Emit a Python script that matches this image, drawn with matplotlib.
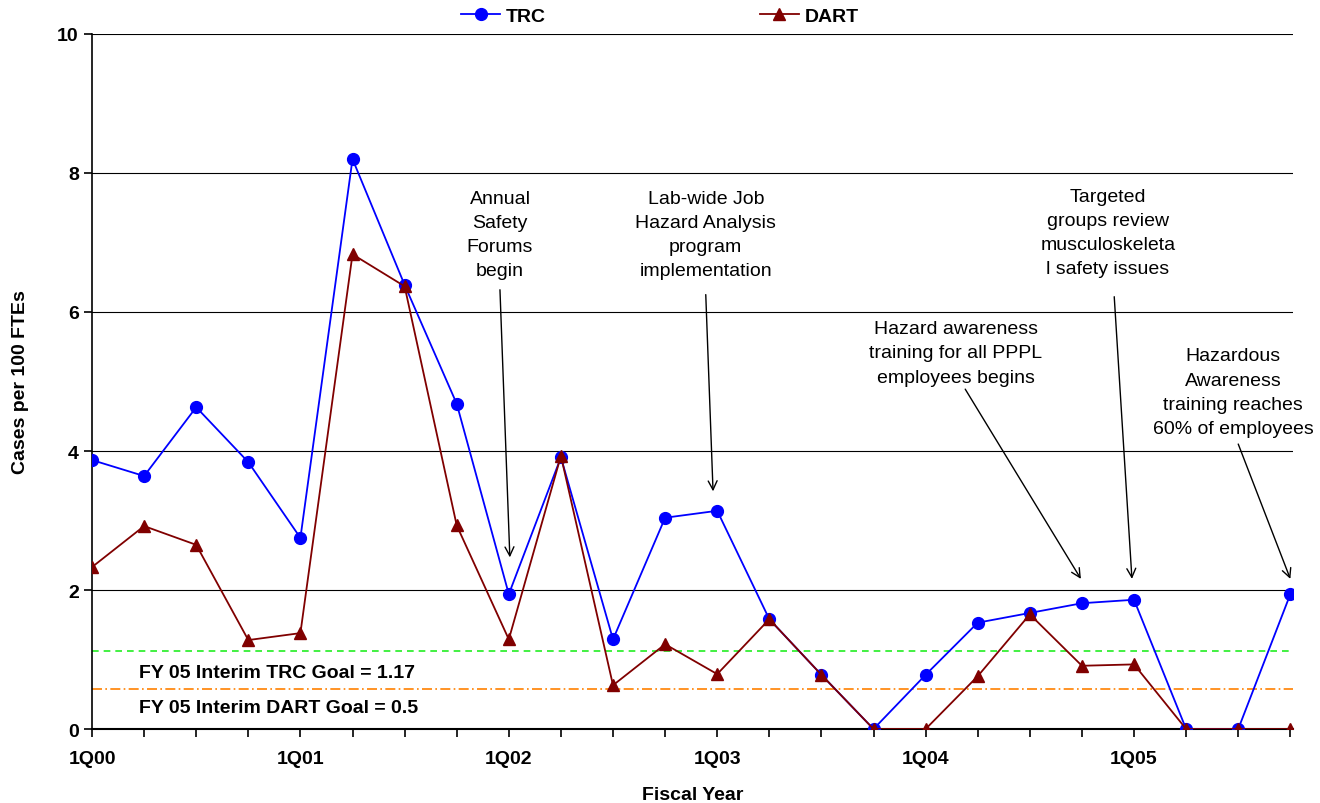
import matplotlib.pyplot as plt
import numpy as np

plt.rcParams["font.family"] = ["Liberation Sans", "DejaVu Sans"]

# quarterly data, 1Q00 .. 4Q05
quarters = ["1Q00", "2Q00", "3Q00", "4Q00", "1Q01", "2Q01", "3Q01", "4Q01",
            "1Q02", "2Q02", "3Q02", "4Q02", "1Q03", "2Q03", "3Q03", "4Q03",
            "1Q04", "2Q04", "3Q04", "4Q04", "1Q05", "2Q05", "3Q05", "4Q05"]
trc = [3.87, 3.64, 4.63, 3.84, 2.75, 8.20, 6.39, 4.68,
       1.94, 3.91, 1.29, 3.04, 3.14, 1.58, 0.78, 0.0,
       0.78, 1.53, 1.67, 1.81, 1.86, 0.0, 0.0, 1.94]
dart = [2.33, 2.92, 2.65, 1.28, 1.38, 6.83, 6.37, 2.93,
        1.29, 3.93, 0.63, 1.22, 0.79, 1.58, 0.78, 0.0,
        0.0, 0.76, 1.65, 0.91, 0.93, 0.0, 0.0, 0.0]

# goal lines (as drawn) and their labels
trc_goal = 1.12
dart_goal = 0.58
trc_goal_label = "FY 05 Interim TRC Goal = 1.17"
dart_goal_label = "FY 05 Interim DART Goal = 0.5"

# milestone notes: text, top of text block, arrow start, arrow tip
notes = [
    ("Annual\nSafety\nForums\nbegin", (7.83, 7.76), (7.83, 6.32), (8.02, 2.47)),
    ("Lab-wide Job\nHazard Analysis\nprogram\nimplementation", (11.78, 7.76), (11.78, 6.25), (11.92, 3.42)),
    ("Targeted\ngroups review\nmusculoskeleta\nl safety issues", (19.5, 7.79), (19.62, 6.22), (19.96, 2.16)),
    ("Hazard awareness\ntraining for all PPPL\nemployees begins", (16.58, 5.88), (16.76, 4.89), (18.98, 2.16)),
    ("Hazardous\nAwareness\ntraining reaches\n60% of employees", (21.9, 5.49), (22.0, 4.10), (23.0, 2.16)),
]

x = np.arange(len(quarters))

fig = plt.figure(figsize=(13.2, 8.04), dpi=100)
ax = fig.add_axes([0.0697, 0.092, 0.9098, 0.8645])

ax.plot(x, trc, color="#0000ff", lw=1.3, marker="o", ms=8.5, label="TRC", zorder=3)
ax.plot(x, dart, color="#800000", lw=1.3, marker="^", ms=8, label="DART", zorder=4)

ax.axhline(trc_goal, color="#22ee22", lw=1.2, ls=(0, (4, 3)), zorder=2)
ax.axhline(dart_goal, color="#ff8000", lw=1.2, ls=(0, (6, 2, 1, 2)), zorder=2)
ax.text(0.9, 0.82, trc_goal_label, fontsize=14, fontweight="bold", va="center")
ax.text(0.9, 0.31, dart_goal_label, fontsize=14, fontweight="bold", va="center")

for txt, xy_text, xy_start, xy_tip in notes:
    ax.annotate("", xy=xy_tip, xytext=xy_start,
                arrowprops=dict(arrowstyle="->", color="black", lw=1.0,
                                mutation_scale=16, shrinkA=0, shrinkB=0))
    ax.text(xy_text[0], xy_text[1], txt, ha="center", va="top",
            fontsize=14, linespacing=1.55)

ax.set_xlim(0, 23.05)
ax.set_ylim(0, 10)
ax.set_yticks([0, 2, 4, 6, 8, 10])
ax.set_xticks(x)
ax.set_xticklabels([q if q.startswith("1Q") else "" for q in quarters])
ax.tick_params(axis="both", direction="out", length=6, width=1.2, labelsize=14)
ax.tick_params(axis="x", pad=9)
for lab in ax.get_xticklabels() + ax.get_yticklabels():
    lab.set_fontweight("bold")

ax.grid(axis="y", color="black", lw=0.8)
for s in ["top", "right"]:
    ax.spines[s].set_visible(False)
ax.spines["left"].set_linewidth(1.2)
ax.spines["bottom"].set_linewidth(1.5)

ax.set_xlabel("Fiscal Year", fontsize=14, fontweight="bold", labelpad=14)
ax.set_ylabel("Cases per 100 FTEs", fontsize=14, fontweight="bold", labelpad=20)

fig.legend(loc="center", bbox_to_anchor=(0.5, 0.979), ncol=2, frameon=False,
           prop={"size": 14, "weight": "bold"}, columnspacing=11,
           handlelength=2.0, handletextpad=0.3)

fig.savefig("out.png", dpi=100, facecolor="white")
